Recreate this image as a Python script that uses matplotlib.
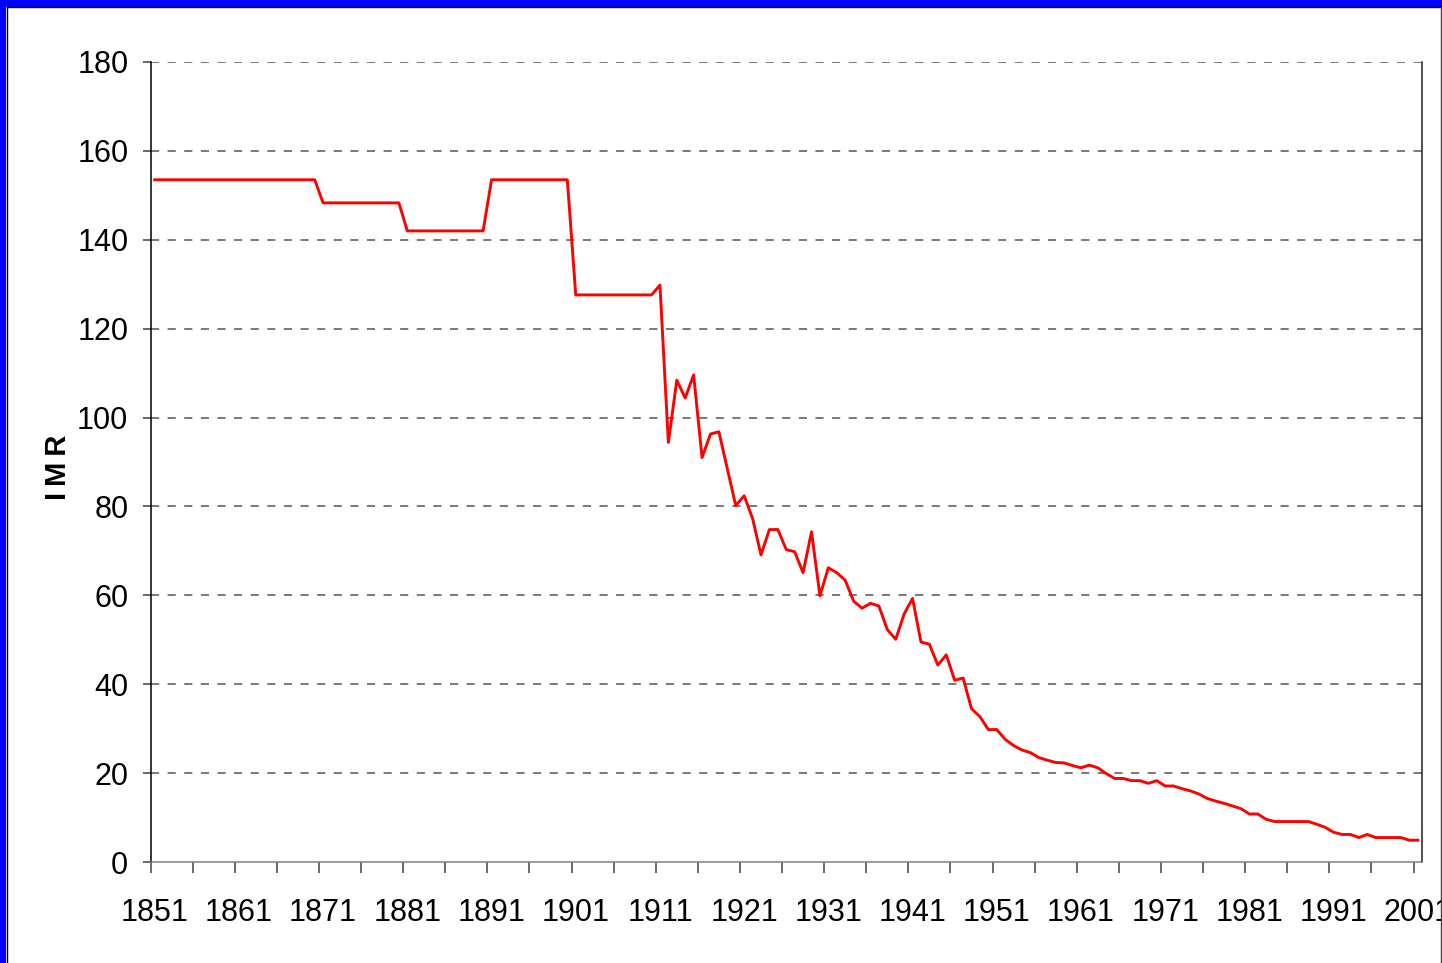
import numpy as np
import matplotlib
matplotlib.use("Agg")
import matplotlib.pyplot as plt
from matplotlib.patches import Rectangle
from matplotlib.lines import Line2D

# infant mortality rate, one value per year 1851-2001
years = list(range(1851, 2002))
imr = (
    [153.5, 153.5, 153.5, 153.5, 153.5, 153.5, 153.5, 153.5, 153.5, 153.5,
     153.5, 153.5, 153.5, 153.5, 153.5, 153.5, 153.5, 153.5, 153.5, 153.5]  # 1851-1870
    + [148.3, 148.3, 148.3, 148.3, 148.3, 148.3, 148.3, 148.3, 148.3, 148.3]  # 1871-1880
    + [142.0, 142.0, 142.0, 142.0, 142.0, 142.0, 142.0, 142.0, 142.0, 142.0]  # 1881-1890
    + [153.5, 153.5, 153.5, 153.5, 153.5, 153.5, 153.5, 153.5, 153.5, 153.5]  # 1891-1900
    + [127.6, 127.6, 127.6, 127.6, 127.6, 127.6, 127.6, 127.6, 127.6, 127.6]  # 1901-1910
    + [129.8, 94.4, 108.4, 104.4, 109.6, 91.0, 96.3, 96.8, 88.5, 80.2]        # 1911-1920
    + [82.4, 77.3, 69.1, 74.8, 74.8, 70.3, 69.8, 65.1, 74.3, 59.9]            # 1921-1930
    + [66.2, 65.1, 63.4, 58.7, 57.1, 58.2, 57.6, 52.3, 50.1, 55.8]            # 1931-1940
    + [59.3, 49.5, 49.0, 44.3, 46.6, 40.9, 41.4, 34.5, 32.7, 29.8]            # 1941-1950
    + [29.8, 27.6, 26.2, 25.2, 24.6, 23.5, 22.9, 22.4, 22.3, 21.7]            # 1951-1960
    + [21.2, 21.8, 21.2, 19.9, 18.8, 18.8, 18.3, 18.3, 17.7, 18.3]            # 1961-1970
    + [17.1, 17.1, 16.5, 16.0, 15.3, 14.3, 13.7, 13.2, 12.6, 12.0]            # 1971-1980
    + [10.8, 10.8, 9.6, 9.1, 9.1, 9.1, 9.1, 9.1, 8.5, 7.8]                    # 1981-1990
    + [6.7, 6.2, 6.2, 5.5, 6.2, 5.5, 5.5, 5.5, 5.5, 4.9]                      # 1991-2000
    + [4.9]                                                                    # 2001
)

label_years = list(range(1851, 2002, 10))
y_ticks = list(range(0, 181, 20))

tick_font = ["Liberation Sans", "DejaVu Sans"]

fig = plt.figure(figsize=(14.42, 9.63), dpi=100)
fig.patch.set_facecolor("white")
ax = fig.add_axes([150.5 / 1442, 1 - 862 / 963, (1422 - 150.5) / 1442, 800 / 963])

# grid lines (dashed grey), the 180 line acts as the top edge
for v in y_ticks[1:]:
    ax.axhline(v, color="#6e6e6e", lw=1.3, linestyle=(0, (4.5, 4.7)), zorder=1)

ax.plot(years, imr, color="red", lw=2.1, zorder=3)

ax.set_xlim(1850.5, 2001.5)
ax.set_ylim(0, 180)

ax.spines["top"].set_visible(False)
ax.spines["left"].set_color("black")
ax.spines["right"].set_color("#202020")
ax.spines["bottom"].set_color("#808080")
for s in ax.spines.values():
    s.set_linewidth(1.1)

ax.set_yticks(y_ticks)
ax.set_yticklabels([str(v) for v in y_ticks], family=tick_font, fontsize=22)
ax.tick_params(axis="y", length=6, width=1.1, color="#404040", pad=10)

# tick marks every 5 years at category borders, labels every 10 years
ax.set_xticks(np.arange(1850.5, 2001, 5), minor=True)
ax.set_xticks(label_years)
ax.set_xticklabels([str(y) for y in label_years], family=tick_font, fontsize=22)
ax.tick_params(axis="x", which="major", length=0, pad=26)
ax.tick_params(axis="x", which="minor", length=8, width=1.1, color="#404040")

fig.text(58 / 1442, 1 - 467 / 963, "I\u2009M\u2009R", rotation=90, ha="center", va="center",
         fontsize=21, fontweight="bold", family=["Liberation Sans", "DejaVu Sans"])

# blue border on top and left, thin grey line at the right edge
fig.patches.append(Rectangle((0, 1 - 7 / 963), 1, 7 / 963, transform=fig.transFigure,
                             facecolor="#0000ff", edgecolor="none", zorder=10))
fig.patches.append(Rectangle((0, 0), 6 / 1442, 1, transform=fig.transFigure,
                             facecolor="#0000ff", edgecolor="none", zorder=10))
fig.lines.append(Line2D([6.5 / 1442, 1], [1 - 7.5 / 963, 1 - 7.5 / 963],
                        transform=fig.transFigure, color="black", lw=1, zorder=11))
fig.lines.append(Line2D([6.5 / 1442, 6.5 / 1442], [0, 1 - 7.5 / 963],
                        transform=fig.transFigure, color="black", lw=1, zorder=11))
fig.lines.append(Line2D([1441 / 1442, 1441 / 1442], [0, 1 - 7.5 / 963],
                        transform=fig.transFigure, color="#404040", lw=1, zorder=11))

fig.savefig("out.png", dpi=100)
